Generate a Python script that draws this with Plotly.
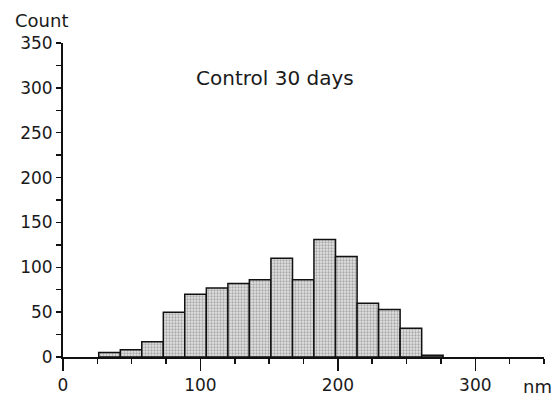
import plotly.graph_objects as go

# Histogram bin edges (nm) and counts
bin_edges = [26, 41.7, 57.3, 73, 88.6, 104.3, 120, 135.6, 151.3, 167,
             182.6, 198.3, 214, 229.6, 245.3, 261, 276.6]
counts = [5, 8, 17, 50, 70, 77, 82, 86, 110, 86, 131, 112, 60, 53, 32, 2]

x_ticks = [0, 100, 200, 300]
y_ticks = [0, 50, 100, 150, 200, 250, 300, 350]

centers = [(a + b) / 2 for a, b in zip(bin_edges[:-1], bin_edges[1:])]
widths = [b - a for a, b in zip(bin_edges[:-1], bin_edges[1:])]

FONT = "DejaVu Sans"

fig = go.Figure()
fig.add_trace(go.Bar(
    x=centers, y=counts, width=widths,
    marker=dict(
        color="#c8c8c8",
        line=dict(color="#111111", width=1.5),
        pattern=dict(shape=".", fgcolor="#6e6e6e", bgcolor="#e2e2e2",
                     size=3, solidity=0.45),
    ),
    showlegend=False,
))

fig.update_layout(
    width=558, height=398,
    margin=dict(l=63, r=14, t=43, b=41, autoexpand=False),
    paper_bgcolor="white", plot_bgcolor="white",
    font=dict(family=FONT, size=17, color="#1a1a1a"),
    bargap=0,
    xaxis=dict(
        range=[0, 350], tickvals=x_ticks, ticktext=[str(v) for v in x_ticks],
        showgrid=False, zeroline=False, automargin=False,
        showline=True, linecolor="#111111", linewidth=2,
        ticks="outside", ticklen=12, tickwidth=1.5, tickcolor="#111111",
        minor=dict(dtick=25, tick0=0, ticks="outside", ticklen=5,
                   tickwidth=1.5, tickcolor="#111111", showgrid=False),
        tickfont=dict(family=FONT, size=17),
        fixedrange=True,
    ),
    yaxis=dict(
        range=[0, 350], tickvals=y_ticks, ticktext=[str(v) for v in y_ticks],
        showgrid=False, zeroline=False, automargin=False,
        showline=True, linecolor="#111111", linewidth=2,
        ticks="outside", ticklen=5, tickwidth=1.5, tickcolor="#111111",
        minor=dict(dtick=25, tick0=0, ticks="outside", ticklen=5,
                   tickwidth=1.5, tickcolor="#111111", showgrid=False),
        tickfont=dict(family=FONT, size=17),
        fixedrange=True,
    ),
    annotations=[
        dict(text="Count", xref="paper", yref="paper", x=-0.104, y=1.073,
             xanchor="left", yanchor="middle", showarrow=False,
             font=dict(family=FONT, size=18)),
        dict(text="nm", xref="paper", yref="paper", x=1.02, y=-0.095,
             xanchor="right", yanchor="middle", showarrow=False,
             font=dict(family=FONT, size=18)),
        dict(text="Control 30 days", xref="paper", yref="paper", x=0.44, y=0.888,
             xanchor="center", yanchor="middle", showarrow=False,
             font=dict(family=FONT, size=20)),
    ],
)

fig.write_html(
    "out.html",
    config={"displayModeBar": False, "staticPlot": True},
    post_script="document.body.style.margin='0px';document.body.style.padding='0px';",
)
